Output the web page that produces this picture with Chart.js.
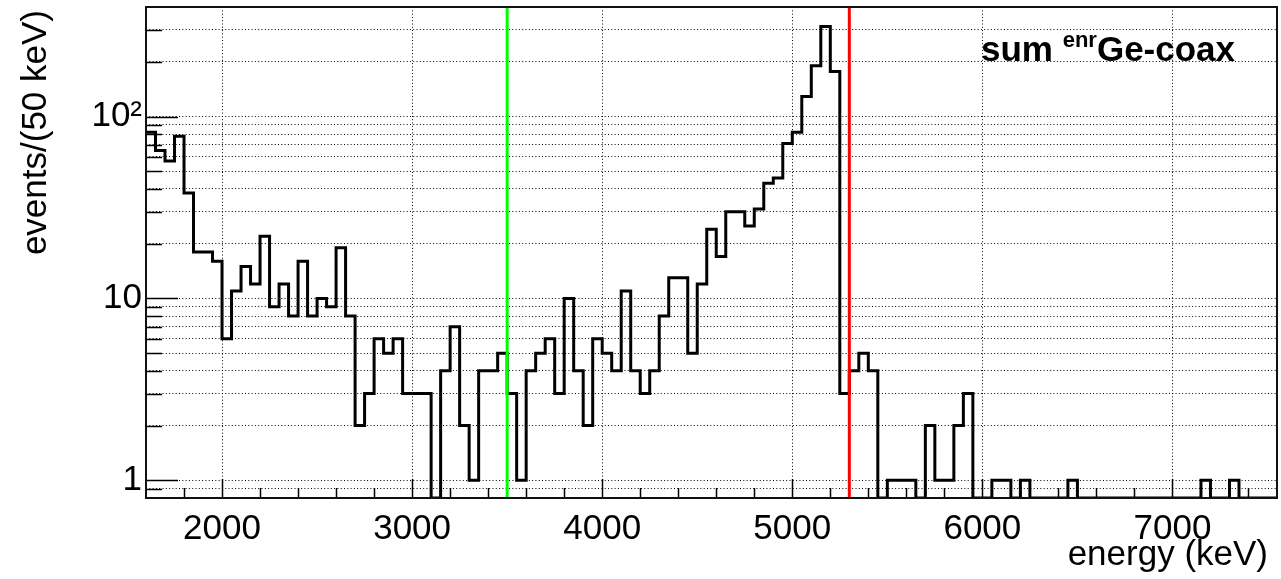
<!DOCTYPE html>
<html>
<head>
<meta charset="utf-8">
<title>sum enrGe-coax energy spectrum</title>
<script src="https://cdn.jsdelivr.net/npm/chart.js@4.4.1/dist/chart.umd.min.js"></script>
<style>
    html, body { margin: 0; padding: 0; background: #ffffff; }
    #wrap { width: 1281px; height: 579px; }
</style>
</head>
<body>
<div id="wrap"><canvas id="spectrumChart" width="1281" height="579"></canvas></div>
<script>
// Histogram: 50 keV bins starting at 1600 keV
const binStart = 1600;
const binWidth = 50;
const counts = [
    82, 65, 57, 78, 38, 18, 18, 16, 6, 11,
    15, 12, 22, 9, 12, 8, 16, 8, 10, 9,
    19, 8, 2, 3, 6, 5, 6, 3, 3, 3,
    0, 4, 7, 2, 1, 4, 4, 5, 3, 1,
    4, 5, 6, 3, 10, 4, 2, 6, 5, 4,
    11, 4, 3, 4, 8, 13, 13, 5, 12, 24,
    17, 30, 30, 25, 31, 43, 46, 71, 82, 129,
    190, 313, 177, 3, 4, 5, 4, 0, 1, 1,
    1, 0, 2, 1, 1, 2, 3, 0, 0, 1,
    1, 0, 1, 0, 0, 0, 0, 1, 0, 0,
    0, 0, 0, 0, 0, 0, 0, 0, 0, 0,
    0, 1, 0, 0, 1, 0, 0, 0, 0
];

// Axis ranges and ticks
const xMin = 1600, xMax = 7550;
const yMin = 0.8, yMax = 400;
const xTicks = [2000, 3000, 4000, 5000, 6000, 7000];
const xMinorStep = 200;
const yTicks = [0.9, 1, 2, 3, 4, 5, 6, 7, 8, 9,
                10, 20, 30, 40, 50, 60, 70, 80, 90,
                100, 200, 300];
const yLabelValues = [1, 10, 100];
const yLabelTexts = ['1', '10', '10\u00B2'];

// Vertical marker lines (keV)
const markerEnergies = [3500, 5300];
const markerColors = ['#00ff00', '#ff0000'];

const fontFamily = '"Liberation Sans", Arial, Helvetica, sans-serif';

// Build step points: one per bin low edge plus the closing edge
const stepPoints = counts.map((c, i) => ({ x: binStart + i * binWidth, y: c > 0 ? c : yMin }));
stepPoints.push({ x: binStart + counts.length * binWidth, y: stepPoints[stepPoints.length - 1].y });

// ROOT-like frame: inward ticks, markers, frame box and texts
const rootFrame = {
    id: 'rootFrame',
    afterDatasetsDraw(chart) {
        const { ctx, chartArea: a, scales: { x, y } } = chart;
        ctx.save();

        markerEnergies.forEach((e, i) => {
            const px = x.getPixelForValue(e);
            ctx.strokeStyle = markerColors[i];
            ctx.lineWidth = 3;
            ctx.beginPath();
            ctx.moveTo(px, a.top);
            ctx.lineTo(px, a.bottom);
            ctx.stroke();
        });

        ctx.strokeStyle = '#000';
        ctx.lineWidth = 1.5;
        ctx.beginPath();
        for (let v = xMin + xMinorStep; v < xMax; v += xMinorStep) {
            const px = Math.round(x.getPixelForValue(v)) + 0.5;
            const len = xTicks.includes(v) ? 19 : 10;
            ctx.moveTo(px, a.bottom);
            ctx.lineTo(px, a.bottom - len);
        }
        yTicks.forEach(v => {
            const py = Math.round(y.getPixelForValue(v)) + 0.5;
            const len = yLabelValues.includes(v) ? 32 : 16;
            ctx.moveTo(a.left, py);
            ctx.lineTo(a.left + len, py);
        });
        ctx.stroke();

        ctx.lineWidth = 2;
        ctx.strokeStyle = '#111';
        ctx.strokeRect(a.left, a.top, a.right - a.left, a.bottom - a.top);

        ctx.fillStyle = '#000';
        ctx.textBaseline = 'alphabetic';

        // y axis title, right-aligned to the top of the axis
        ctx.save();
        ctx.translate(46, 10);
        ctx.rotate(-Math.PI / 2);
        ctx.textAlign = 'right';
        ctx.font = '35px ' + fontFamily;
        ctx.fillText('events/(50 keV)', 0, 0);
        ctx.restore();

        // x axis title, right-aligned
        ctx.textAlign = 'right';
        ctx.font = '35px ' + fontFamily;
        ctx.fillText('energy (keV)', 1268, 565);

        // label with superscript
        ctx.textAlign = 'left';
        let tx = 981;
        const ty = 61;
        ctx.font = 'bold 35px ' + fontFamily;
        ctx.fillText('sum', tx, ty);
        tx += ctx.measureText('sum ').width;
        ctx.font = 'bold 22px ' + fontFamily;
        ctx.fillText('enr', tx, ty - 14);
        tx += ctx.measureText('enr').width;
        ctx.font = 'bold 35px ' + fontFamily;
        ctx.fillText('Ge-coax', tx, ty);

        ctx.restore();
    }
};

const ctx = document.getElementById('spectrumChart').getContext('2d');
new Chart(ctx, {
    type: 'line',
    data: {
        datasets: [{
            label: 'sum enrGe-coax',
            data: stepPoints,
            stepped: true,
            borderColor: '#000000',
            borderWidth: 3,
            pointRadius: 0,
            fill: false,
            tension: 0,
            borderJoinStyle: 'miter'
        }]
    },
    options: {
        responsive: false,
        animation: false,
        devicePixelRatio: 1,
        layout: { padding: { top: 7, right: 4, bottom: 0, left: 0 } },
        plugins: {
            legend: { display: false },
            tooltip: { enabled: false }
        },
        scales: {
            x: {
                type: 'linear',
                min: xMin,
                max: xMax,
                afterBuildTicks: s => { s.ticks = xTicks.map(v => ({ value: v })); },
                afterFit: s => {
                    s.height = 81;
                    s.paddingLeft = 0;
                    s.paddingRight = 0;
                },
                grid: { color: '#000', lineWidth: 1, drawTicks: false },
                border: { display: false, dash: [1, 2.3] },
                ticks: {
                    color: '#000',
                    padding: 10,
                    maxRotation: 0,
                    autoSkip: false,
                    font: { family: fontFamily, size: 35 },
                    callback: v => String(v)
                }
            },
            y: {
                type: 'logarithmic',
                min: yMin,
                max: yMax,
                afterBuildTicks: s => { s.ticks = yTicks.map(v => ({ value: v })); },
                afterFit: s => {
                    s.width = 146;
                    s.paddingTop = 0;
                    s.paddingBottom = 0;
                },
                grid: { color: '#000', lineWidth: 1, drawTicks: false },
                border: { display: false, dash: [1, 2.3] },
                ticks: {
                    color: '#000',
                    padding: 4,
                    autoSkip: false,
                    font: { family: fontFamily, size: 35 },
                    callback: v => {
                        const k = yLabelValues.indexOf(v);
                        return k >= 0 ? yLabelTexts[k] : '';
                    }
                }
            }
        }
    },
    plugins: [rootFrame]
});
</script>
</body>
</html>
